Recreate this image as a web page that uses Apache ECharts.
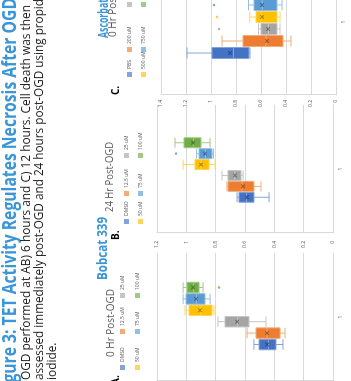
<!DOCTYPE html>
<html>
<head>
<meta charset="utf-8">
<script src="https://cdn.jsdelivr.net/npm/echarts@6/dist/echarts.min.js"></script>
<style>
  html, body { margin: 0; padding: 0; background: #fff; width: 351px; height: 381px; overflow: hidden; }
  /* the poster panel is laid out upright (381 x 351) and turned a quarter turn */
  #poster { position: absolute; left: 0; top: 0; width: 381px; height: 351px;
            transform-origin: 0 0; transform: translateY(381px) rotate(-90deg); background: #fff; }
</style>
</head>
<body>
<div id="poster"></div>
<script>
// ---- text ----
const figureTitle = 'Figure 3: TET Activity Regulates Necrosis After OGD';
const captionLines = [
  'OGD performed at AB) 6 hours and C) 12 hours. Cell death was then',
  'assessed immediately post-OGD and 24 hours post-OGD using propidium',
  'iodide.'
];
const drugNames = ['Bobcat 339', 'Ascorbate'];
const panelTitles = ['0 Hr Post-OGD', '24 Hr Post-OGD', '0 Hr Post-OGD'];
const panelLetters = ['A.', 'B.', 'C.'];

// ---- categories / ticks ----
const categories = ['1'];
const bobcatGroups = ['DMSO', '12.5 uM', '25 uM', '50 uM', '75 uM', '100 uM'];
const ascorbateGroups = ['PBS', '200 uM', '300 uM', '500 uM', '750 uM', '1000 uM'];
const yTicksBobcat = [0, 0.2, 0.4, 0.6, 0.8, 1, 1.2];
const yTicksAscorbate = [0, 0.2, 0.4, 0.6, 0.8, 1, 1.2, 1.4];

// ---- values: [min, Q1, median, Q3, max], means, outliers ----
const bobcat0hBoxes = [
  [0.341, 0.389, 0.44, 0.504, 0.539],
  [0.327, 0.361, 0.45, 0.525, 0.586],
  [0.457, 0.573, 0.65, 0.736, 0.784],
  [0.811, 0.825, 0.90, 0.982, 1.009],
  [0.838, 0.873, 0.93, 1.002, 1.022],
  [0.886, 0.913, 0.95, 0.995, 1.022]
];
const bobcat0hMeans = [0.45, 0.45, 0.654, 0.907, 0.934, 0.954];
const bobcat0hOutliers = [[], [], [], [], [], [0.777]];

const bobcat24hBoxes = [
  [0.436, 0.539, 0.59, 0.641, 0.654],
  [0.491, 0.539, 0.62, 0.716, 0.723],
  [0.613, 0.627, 0.67, 0.716, 0.757],
  [0.804, 0.845, 0.90, 0.941, 1.022],
  [0.815, 0.825, 0.87, 0.913, 0.930],
  [0.838, 0.900, 0.95, 1.016, 1.077]
];
const bobcat24hMeans = [0.586, 0.613, 0.668, 0.90, 0.873, 0.954];
const bobcat24hOutliers = [[], [], [], [], [1.07], []];

const ascorbate0hBoxes = [
  [0.688, 0.696, 0.82, 0.992, 1.192],
  [0.360, 0.424, 0.56, 0.744, 0.912],
  [0.448, 0.472, 0.54, 0.600, 0.620],
  [0.448, 0.472, 0.60, 0.640, 0.690],
  [0.432, 0.472, 0.59, 0.656, 0.700],
  [0.440, 0.480, 0.58, 0.660, 0.720]
];
const ascorbate0hMeans = [0.848, 0.552, 0.544, 0.592, 0.592, 0.58];
const ascorbate0hOutliers = [[], [], [0.936], [0.952], [0.976], []];

const seriesColors = ['#4472c4', '#ed7d31', '#a5a5a5', '#ffc000', '#5b9bd5', '#70ad47'];

const panels = [
  { groups: bobcatGroups, ticks: yTicksBobcat, boxes: bobcat0hBoxes, means: bobcat0hMeans, outliers: bobcat0hOutliers },
  { groups: bobcatGroups, ticks: yTicksBobcat, boxes: bobcat24hBoxes, means: bobcat24hMeans, outliers: bobcat24hOutliers },
  { groups: ascorbateGroups, ticks: yTicksAscorbate, boxes: ascorbate0hBoxes, means: ascorbate0hMeans, outliers: ascorbate0hOutliers }
];

// ---- layout of the three plots on the panel ----
const frames = [
  { left: 0,   width: 128, top: 157, bottom: 333, center: 65,  step: 11.4, boxW: 10.5, labelMargin: 8,
    letterX: -4, cols: [11, 47, 83],   rows: [122.5, 137.5], titleX: 24,  titleW: 68, titleY: 111.5 },
  { left: 148, width: 128, top: 157, bottom: 333, center: 211, step: 10.9, boxW: 10,   labelMargin: 8,
    letterX: 141, cols: [157, 185, 223], rows: [126.5, 140.5], titleX: 169, titleW: 70, titleY: 110 },
  { left: 286, width: 146, top: 161, bottom: 336, center: 358, step: 12,   boxW: 11,   labelMargin: 5,
    letterX: 286, cols: [304, 329, 374], rows: [129.5, 143.5], titleX: 344, titleW: 68, titleY: 113 }
];

function mix(hex, target, t) {
  const a = parseInt(hex.slice(1), 16);
  const r = (a >> 16) & 255, g = (a >> 8) & 255, b = a & 255;
  const m = c => Math.round(c + (target - c) * t);
  return 'rgb(' + m(r) + ',' + m(g) + ',' + m(b) + ')';
}

const meanSymbol = 'path://M0,0L2,0L5,3L8,0L10,0L10,2L7,5L10,8L10,10L8,10L5,7L2,10L0,10L0,8L3,5L0,2Z';
const grid = [], xAxis = [], yAxis = [], series = [], legend = [];

panels.forEach((pd, p) => {
  const f = frames[p];
  const h = f.bottom - f.top;
  const yMin = pd.ticks[0], yMax = pd.ticks[pd.ticks.length - 1], yStep = pd.ticks[1] - pd.ticks[0];

  // plot frame with gridlines, value labels and the category label
  const bg = grid.length;
  grid.push({ left: f.left, top: f.top, width: f.width, height: h, containLabel: false, outerBoundsMode: 'none' });
  xAxis.push({ gridIndex: bg, type: 'category', data: categories,
    axisLine: { show: true, lineStyle: { color: '#d9d9d9', width: 1 } },
    axisTick: { show: false }, splitLine: { show: false },
    axisLabel: { fontSize: 5, color: '#595959', margin: 5, fontFamily: 'Open Sans' } });
  yAxis.push({ gridIndex: bg, type: 'value', min: yMin, max: yMax, interval: yStep,
    axisLine: { show: true, lineStyle: { color: '#d9d9d9', width: 1 } },
    axisTick: { show: false },
    splitLine: { show: true, lineStyle: { color: '#d9d9d9', width: 1 } },
    axisLabel: { fontSize: 5, color: '#595959', margin: f.labelMargin, fontFamily: 'Open Sans',
      formatter: v => String(pd.ticks[Math.round((v - yMin) / yStep)]) } });

  // one narrow column per group so the boxes sit side by side
  pd.groups.forEach((name, i) => {
    const gi = grid.length;
    const cx = f.center + (i - (pd.groups.length - 1) / 2) * f.step;
    grid.push({ left: cx - f.step / 2, top: f.top, width: f.step, height: h, containLabel: false, outerBoundsMode: 'none' });
    xAxis.push({ gridIndex: gi, type: 'category', data: [name], show: false });
    yAxis.push({ gridIndex: gi, type: 'value', min: yMin, max: yMax, show: false });
    const c = seriesColors[i];
    series.push({
      type: 'boxplot', name: name, xAxisIndex: gi, yAxisIndex: gi,
      boxWidth: [f.boxW, f.boxW], data: [pd.boxes[i]],
      itemStyle: { color: c, borderColor: mix(c, 255, 0.35), borderWidth: 1 },
      emphasis: { disabled: true }, silent: true
    });
    series.push({
      type: 'scatter', name: name, xAxisIndex: gi, yAxisIndex: gi, z: 5,
      symbol: meanSymbol, symbolSize: 4, data: [[0, pd.means[i]]],
      itemStyle: { color: mix(c, 0, 0.4) }, silent: true
    });
    if (pd.outliers[i].length) {
      series.push({
        type: 'scatter', name: name, xAxisIndex: gi, yAxisIndex: gi, z: 5,
        symbol: 'circle', symbolSize: 2.6, data: pd.outliers[i].map(v => [0, v]),
        itemStyle: { color: c }, silent: true
      });
    }
    // legend entry: three per row, two rows
    legend.push({
      data: [name], orient: 'horizontal', padding: 0,
      left: f.cols[i % 3], top: f.rows[Math.floor(i / 3)] - 2.5,
      itemWidth: 5, itemHeight: 5, icon: 'rect', itemGap: 0,
      itemStyle: { borderWidth: 0 },
      textStyle: { fontSize: 5, color: '#595959', fontFamily: 'Open Sans', padding: [0, 0, 0, -2] },
      selectedMode: false
    });
  });
});

// ---- headings and caption as text elements, fitted to their line widths ----
const measureCtx = document.createElement('canvas').getContext('2d');
function textWidth(text, weight, size, family) {
  measureCtx.font = weight + ' ' + size + 'px ' + family;
  return measureCtx.measureText(text).width;
}
function fittedText(text, x, y, width, size, weight, color, fitText) {
  const family = 'Open Sans';
  const s = width / textWidth(fitText || text, weight, size, family);
  return { type: 'text', x: x, y: y, scaleX: s, silent: true,
    style: { text: text, fill: color, fontSize: size, fontWeight: weight, fontFamily: family,
             align: 'left', verticalAlign: 'middle' } };
}

const graphic = [
  fittedText(figureTitle, -15, 10, 398, 19.5, 'bold', '#3a96d6'),
  fittedText(captionLines[0], 1, 26, 375, 12.6, 'normal', '#222222'),
  fittedText(captionLines[1], 1, 39.5, 381, 12.6, 'normal', '#222222',
             'assessed immediately post-OGD and 24 hours post-OGD using propid'),
  fittedText(captionLines[2], 1, 52.5, 375 * textWidth(captionLines[2], 'normal', 12.6, 'Open Sans') /
             textWidth(captionLines[0], 'normal', 12.6, 'Open Sans'), 12.6, 'normal', '#222222'),
  fittedText(drugNames[0], 101, 103.5, 63, 13.5, 'bold', '#3a96d6'),
  fittedText(drugNames[1], 343, 104, 39, 13.5, 'bold', '#3a96d6', 'Ascorbat')
];
frames.forEach((f, p) => {
  graphic.push(fittedText(panelTitles[p], f.titleX, f.titleY, f.titleW, 10, 'normal', '#595959'));
  graphic.push({ type: 'text', x: f.letterX, y: 116, silent: true,
    style: { text: panelLetters[p], fill: '#000', fontSize: 10, fontWeight: 'bold', fontFamily: 'Open Sans',
             align: 'left', verticalAlign: 'middle' } });
});

const chart = echarts.init(document.getElementById('poster'), null, { renderer: 'canvas', width: 381, height: 351 });
chart.setOption({
  animation: false,
  backgroundColor: '#ffffff',
  grid: grid, xAxis: xAxis, yAxis: yAxis,
  legend: legend,
  series: series,
  graphic: graphic
});
</script>
</body>
</html>
